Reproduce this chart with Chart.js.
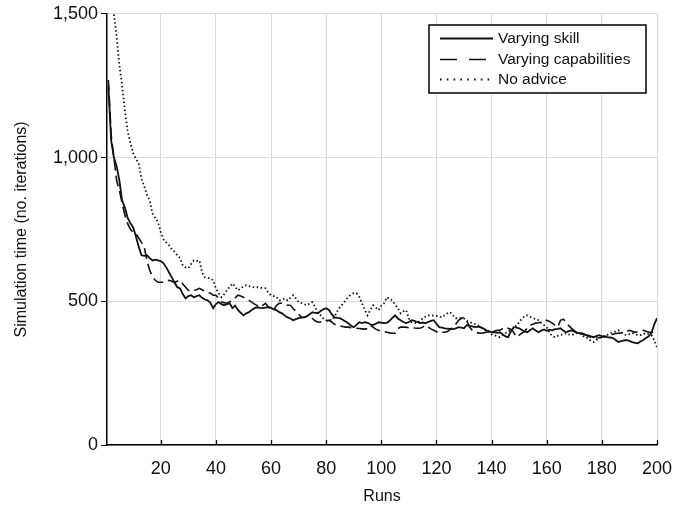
<!DOCTYPE html>
<html>
<head>
<meta charset="utf-8">
<script src="https://cdn.jsdelivr.net/npm/chart.js@4"></script>
<style>
  html, body { margin: 0; padding: 0; background: #fff; }
  #wrap { width: 689px; height: 512px; position: relative; }
</style>
</head>
<body>
<div id="wrap"><canvas id="c" width="689" height="512"></canvas></div>
<script>
const runs = Array.from({ length: 200 }, (_, i) => i + 1);

const xTicks = [20, 40, 60, 80, 100, 120, 140, 160, 180, 200];
const yTicks = [0, 500, 1000, 1500];

const seriesNames = ["Varying skill", "Varying capabilities", "No advice"];

const varyingSkill = [
  1250, 1060, 1000, 970, 920, 850, 826, 790, 771, 757,
  725, 690, 660, 658, 660, 650, 642, 645, 642, 640,
  632, 618, 600, 583, 565, 549, 545, 525, 510, 518,
  521, 514, 518, 521, 512, 506, 503, 495, 476, 490,
  497, 490, 486, 490, 493, 476, 485, 470, 460, 451,
  458, 462, 470, 476, 479, 477, 476, 478, 480, 477,
  472, 469, 462, 458, 450, 444, 440, 434, 438, 441,
  443, 444, 448, 455, 462, 460, 458, 466, 472, 476,
  470, 455, 444, 442, 441, 436, 430, 424, 415, 410,
  418, 427, 424, 427, 425, 420, 417, 422, 427, 426,
  424, 425, 432, 442, 451, 440, 434, 428, 424, 428,
  434, 432, 428, 424, 426, 423, 428, 432, 434, 422,
  410, 408, 406, 405, 404, 403, 406, 410, 408, 406,
  417, 414, 413, 410, 412, 410, 405, 399, 396, 392,
  393, 390, 392, 385, 378, 375, 395, 410, 408, 406,
  400, 395, 392, 400, 406, 398, 392, 398, 402, 397,
  401, 399, 403, 404, 406, 398, 392, 396, 399, 394,
  391, 389, 386, 383, 381, 378, 375, 379, 382, 379,
  377, 375, 374, 372, 365, 358, 361, 364, 365, 362,
  358, 355, 354, 360, 365, 372, 378, 389, 420, 441
];

const varyingCapabilities = [
  1270, 1080, 1000, 920, 885, 840, 800, 770, 750, 740,
  736, 720, 705, 690, 640, 608, 585, 573, 566, 566,
  566, 570, 573, 570, 566, 570, 573, 560, 549, 538,
  535, 538, 540, 545, 540, 535, 530, 528, 521, 521,
  510, 497, 495, 493, 498, 505, 512, 521, 518, 514,
  508, 503, 497, 490, 485, 479, 486, 493, 480, 472,
  469, 486, 493, 493, 490, 486, 486, 475, 465, 455,
  445, 444, 448, 451, 440, 432, 427, 428, 427, 430,
  434, 428, 420, 417, 414, 412, 410, 410, 408, 407,
  406, 405, 404, 403, 405, 417, 410, 403, 399, 396,
  394, 392, 390, 389, 389, 405, 410, 410, 410, 408,
  409, 407, 406, 406, 410, 417, 410, 404, 399, 394,
  389, 392, 392, 395, 402, 410, 420, 434, 440, 444,
  432, 410, 399, 395, 390, 389, 390, 392, 392, 393,
  396, 399, 399, 405, 410, 406, 402, 392, 375, 382,
  389, 395, 408, 417, 420, 424, 425, 427, 431, 434,
  430, 424, 417, 410, 434, 438, 427, 415, 406, 398,
  392, 390, 389, 384, 378, 375, 374, 372, 373, 375,
  377, 380, 382, 385, 388, 389, 390, 392, 395, 399,
  396, 392, 394, 397, 399, 396, 392, 392, 392, 392
];

const noAdvice = [
  1720, 1580, 1500, 1420, 1320, 1250, 1163, 1090, 1050, 1015,
  995, 980, 925, 900, 870, 850, 806, 790, 775, 740,
  715, 705, 695, 680, 672, 660, 650, 625, 618, 615,
  630, 642, 640, 642, 600, 583, 582, 580, 573, 545,
  528, 514, 525, 538, 550, 562, 550, 538, 545, 552,
  556, 553, 550, 548, 549, 547, 546, 545, 530, 521,
  518, 515, 503, 505, 510, 503, 512, 521, 510, 497,
  494, 490, 486, 492, 497, 480, 458, 451, 440, 434,
  435, 434, 445, 465, 479, 490, 503, 515, 523, 528,
  528, 515, 493, 470, 451, 470, 486, 478, 469, 485,
  493, 514, 508, 503, 488, 476, 458, 465, 469, 440,
  427, 425, 424, 432, 441, 446, 451, 451, 450, 449,
  447, 444, 452, 458, 462, 450, 441, 441, 442, 440,
  432, 428, 424, 420, 417, 410, 405, 400, 392, 385,
  382, 378, 375, 382, 389, 395, 400, 406, 415, 427,
  440, 448, 451, 446, 441, 438, 434, 425, 417, 410,
  392, 378, 375, 380, 382, 386, 389, 385, 382, 386,
  389, 389, 380, 374, 372, 362, 358, 365, 372, 376,
  380, 383, 388, 392, 395, 399, 392, 385, 382, 386,
  389, 386, 382, 382, 386, 389, 385, 382, 365, 340
];

const FONT = "'Liberation Sans', Arial, sans-serif";
const INK = '#111';

function pts(vals) { return runs.map((r, i) => ({ x: r, y: vals[i] })); }

const styles = [
  { borderDash: [], width: 1.8, legendDash: [] },
  { borderDash: [11, 5], width: 1.6, legendDash: [17, 12] },
  { borderDash: [1.5, 2.5], width: 1.8, legendDash: [1.6, 5.2] }
];
const seriesData = [varyingSkill, varyingCapabilities, noAdvice];

const innerTicks = {
  id: 'innerTicks',
  afterDatasetsDraw(chart) {
    const { ctx, scales: { x }, chartArea } = chart;
    ctx.save();
    ctx.strokeStyle = '#000';
    ctx.lineWidth = 1.3;
    xTicks.forEach(v => {
      const px = Math.round(x.getPixelForValue(v)) + 0.5;
      ctx.beginPath();
      ctx.moveTo(px, chartArea.bottom);
      ctx.lineTo(px, chartArea.bottom - 5);
      ctx.stroke();
    });
    ctx.restore();
  }
};

const boxLegend = {
  id: 'boxLegend',
  afterDraw(chart) {
    const { ctx } = chart;
    const bx = 429, by = 25, bw = 217, bh = 68;
    ctx.save();
    ctx.fillStyle = '#fff';
    ctx.fillRect(bx, by, bw, bh);
    ctx.strokeStyle = '#000';
    ctx.lineWidth = 1.5;
    ctx.strokeRect(bx, by, bw, bh);
    const rows = [38, 59, 79];
    ctx.font = '15.5px ' + FONT;
    ctx.textBaseline = 'middle';
    ctx.textAlign = 'left';
    seriesNames.forEach((name, i) => {
      ctx.beginPath();
      ctx.setLineDash(styles[i].legendDash);
      ctx.lineWidth = styles[i].width;
      ctx.strokeStyle = INK;
      ctx.moveTo(440, rows[i] + 0.5);
      ctx.lineTo(493, rows[i] + 0.5);
      ctx.stroke();
      ctx.setLineDash([]);
      ctx.fillStyle = INK;
      ctx.fillText(name, 498, rows[i] + 1);
    });
    ctx.restore();
  }
};

new Chart(document.getElementById('c'), {
  type: 'line',
  data: {
    datasets: seriesNames.map((name, i) => ({
      label: name,
      data: pts(seriesData[i]),
      borderColor: INK,
      borderWidth: styles[i].width,
      borderDash: styles[i].borderDash,
      pointRadius: 0,
      tension: 0,
      fill: false
    }))
  },
  options: {
    responsive: false,
    animation: false,
    events: [],
    layout: { padding: { left: 0, top: 13, right: 32, bottom: 0 } },
    plugins: { legend: { display: false }, tooltip: { enabled: false } },
    scales: {
      x: {
        type: 'linear',
        min: 0.5,
        max: 200,
        afterBuildTicks(s) { s.ticks = xTicks.map(v => ({ value: v })); },
        afterFit(s) { s.height = 67; },
        grid: { color: '#d9d9d9', lineWidth: 1, drawTicks: false },
        border: { display: true, color: '#000', width: 1.5 },
        ticks: {
          padding: 13,
          color: INK,
          font: { family: FONT, size: 18 },
          maxRotation: 0,
          autoSkip: false,
          callback: v => String(v)
        },
        title: {
          display: true,
          text: 'Runs',
          color: INK,
          font: { family: FONT, size: 16 },
          padding: { top: 0, bottom: 6 }
        }
      },
      y: {
        type: 'linear',
        min: 0,
        max: 1500,
        afterBuildTicks(s) { s.ticks = yTicks.map(v => ({ value: v })); },
        afterFit(s) { s.width = 107; },
        grid: { color: '#d9d9d9', lineWidth: 1, tickColor: '#000', tickLength: 6, drawTicks: true },
        border: { display: true, color: '#000', width: 1.5 },
        ticks: {
          padding: 3,
          color: INK,
          font: { family: FONT, size: 18 },
          callback: v => v.toLocaleString('en-US')
        },
        title: {
          display: true,
          text: 'Simulation time (no. iterations)',
          color: INK,
          font: { family: FONT, size: 16 },
          padding: { top: 12, bottom: 0 }
        }
      }
    }
  },
  plugins: [innerTicks, boxLegend]
});
</script>
</body>
</html>
